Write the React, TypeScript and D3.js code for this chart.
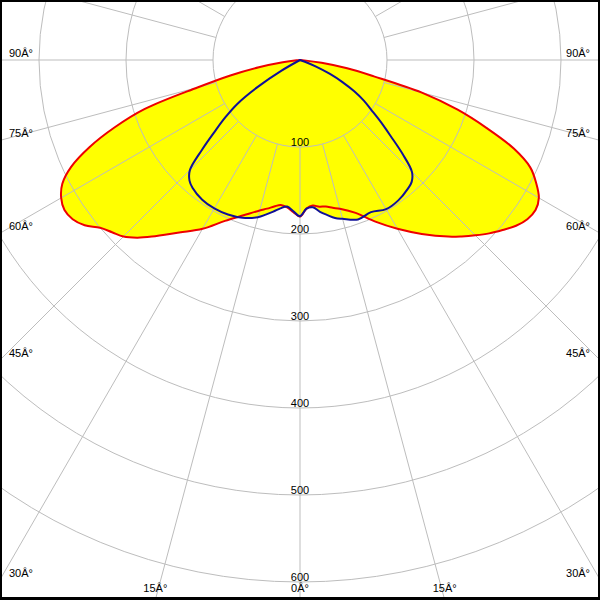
import React from "react";
import * as d3 from "d3";

// gamma angles (degrees from nadir)
const gammaAngles = [0, 2.5, 5, 7.5, 10, 12.5, 15, 20, 25, 30, 35, 40, 42.5, 45, 47.5, 50, 52.5, 55, 57.5, 60, 62.5, 65, 67.5, 70, 72.5, 75, 77.5, 80, 82.5, 85, 87.5, 90];
// C-plane intensities (cd/klm)
const redLeft = [180, 175, 170, 168, 171, 175, 179, 190, 204, 224, 242, 265, 277, 287, 293, 300, 312, 319, 321, 317, 308, 290, 262, 227, 187, 122, 82, 48, 20, 4, 0, 0];
const redRight = [180, 171, 168, 170, 171, 174, 177, 187, 205, 224, 244, 265, 275, 285, 295, 304, 313, 319, 321, 317, 306, 292, 266, 228, 190, 145, 87, 55, 25, 5, 0, 0];
const blueLeft = [181, 174, 169, 172, 177, 182, 187, 193, 196, 197, 196, 192, 188, 179, 153, 128, 108, 88, 58, 25, 0, 0, 0, 0, 0, 0, 0, 0, 0, 0, 0, 0];
const blueRight = [178, 171, 170, 176, 181, 186, 189, 195, 193, 198, 197, 193, 190, 182, 160, 136, 117, 100, 87, 72, 55, 38, 20, 6, 0, 0, 0, 0, 0, 0, 0, 0];

const ringValues = [100, 200, 300, 400, 500, 600];
const spokeAngles = d3.range(0, 360, 15);
const sideLabelAngles = [90, 75, 60, 45, 30];
const bottomLabelAngles = [-15, 0, 15];

const W = 600;
const H = 600;
const CX = 300;
const CY = 60;
const rScale = d3.scaleLinear().domain([0, 600]).range([0, 522]);
const rad = (deg: number) => (deg * Math.PI) / 180;
const DEG = "\u00C2\u00B0";

function buildPoints(left: number[], right: number[]): [number, number][] {
  const pts: [number, number][] = [[Math.PI, 0]];
  for (let i = gammaAngles.length - 1; i >= 1; i--) {
    if (left[i] > 0) pts.push([Math.PI + rad(gammaAngles[i]), rScale(left[i])]);
  }
  pts.push([Math.PI, rScale((left[0] + right[0]) / 2)]);
  for (let i = 1; i < gammaAngles.length; i++) {
    if (right[i] > 0) pts.push([Math.PI - rad(gammaAngles[i]), rScale(right[i])]);
  }
  pts.push([0, 0]);
  return pts;
}

const radialLine = d3
  .lineRadial<[number, number]>()
  .angle((d) => d[0])
  .radius((d) => d[1])
  .curve(d3.curveCatmullRom.alpha(0.5));

export default function App() {
  const redPath = radialLine(buildPoints(redLeft, redRight)) + "Z";
  const bluePath = radialLine(buildPoints(blueLeft, blueRight)) + "Z";
  const r0 = rScale(100);
  const rMax = 1000;
  const grid = "#bdbdbd";
  const font = "'Liberation Sans', Arial, sans-serif";

  return (
    <svg
      width={W}
      height={H}
      style={{ position: "absolute", left: 0, top: 0, background: "#fff" }}
    >
      <rect x={0} y={0} width={W} height={H} fill="#fff" />
      <g transform={`translate(${CX},${CY})`}>
        <path d={redPath} fill="#ffff00" stroke="none" />
        <path d={bluePath} fill="#ffff00" stroke="none" />
        {ringValues.map((v) => (
          <circle key={v} r={rScale(v)} fill="none" stroke={grid} strokeWidth={1} />
        ))}
        {spokeAngles.map((a) => {
          const t = rad(a);
          return (
            <line
              key={a}
              x1={r0 * Math.sin(t)}
              y1={r0 * Math.cos(t)}
              x2={rMax * Math.sin(t)}
              y2={rMax * Math.cos(t)}
              stroke={grid}
              strokeWidth={1}
            />
          );
        })}
        <path d={redPath} fill="none" stroke="#ee0000" strokeWidth={2} />
        <path d={bluePath} fill="none" stroke="#101098" strokeWidth={2} />
        {ringValues.map((v) => (
          <text
            key={v}
            x={0}
            y={rScale(v) - 1.5}
            textAnchor="middle"
            fontFamily={font}
            fontSize={11}
            fill="#000"
          >
            {v}
          </text>
        ))}
      </g>
      {sideLabelAngles.map((a) => {
        const y = CY + (a === 90 ? 0 : CX / Math.tan(rad(a))) - 3;
        return (
          <g key={a}>
            <text x={9} y={y} fontFamily={font} fontSize={11} fill="#000">
              {`${a}${DEG}`}
            </text>
            <text x={590} y={y} textAnchor="end" fontFamily={font} fontSize={11} fill="#000">
              {`${a}${DEG}`}
            </text>
          </g>
        );
      })}
      {bottomLabelAngles.map((a) => (
        <text
          key={a}
          x={CX + (H - CY) * Math.tan(rad(a))}
          y={592}
          textAnchor="middle"
          fontFamily={font}
          fontSize={11}
          fill="#000"
        >
          {`${Math.abs(a)}${DEG}`}
        </text>
      ))}
      <rect x={0} y={0} width={W} height={H} fill="none" stroke="#000" strokeWidth={4} />
      <line x1={0} x2={W} y1={598.5} y2={598.5} stroke="#000" strokeWidth={3} />
    </svg>
  );
}
